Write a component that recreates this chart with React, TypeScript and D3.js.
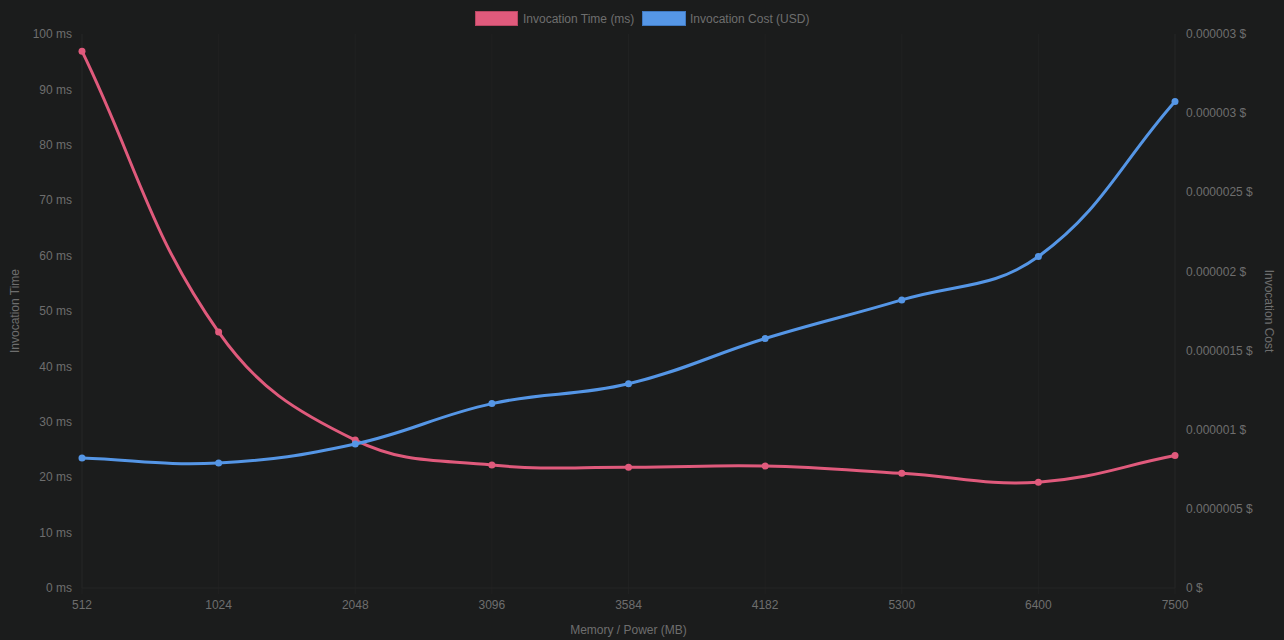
import React from "react";
import * as d3 from "d3";

const categories = ["512", "1024", "2048", "3096", "3584", "4182", "5300", "6400", "7500"];
const timeValues = [96.9, 46.2, 26.7, 22.2, 21.8, 22.0, 20.7, 19.1, 23.9];
const costValues = [8.21e-7, 7.9e-7, 9.1e-7, 1.165e-6, 1.29e-6, 1.576e-6, 1.82e-6, 2.094e-6, 3.073e-6];
const timeTicks = [0, 10, 20, 30, 40, 50, 60, 70, 80, 90, 100];
const costTicks = [0, 5e-7, 1e-6, 1.5e-6, 2e-6, 2.5e-6, 3e-6, 3.5e-6];
const costTickLabels = ["0 $", "0.0000005 $", "0.000001 $", "0.0000015 $", "0.000002 $", "0.0000025 $", "0.000003 $", "0.000003 $"];
const legendLabels = ["Invocation Time (ms)", "Invocation Cost (USD)"];

const W = 1284, H = 640;
const left = 82, right = 1175, top = 34, bottom = 588;
const BG = "#1b1c1c";
const TXT = "#6e6e6e";
const PINK = "#e05a7c";
const BLUE = "#5596e6";
const FONT = "'Liberation Sans', Arial, Helvetica, sans-serif";

function splinePath(pts: [number, number][], tension = 0.4) {
  const p = d3.path();
  const cps = pts.map((cur, i) => {
    const prev = pts[i - 1] || cur;
    const next = pts[i + 1] || cur;
    const d01 = Math.hypot(cur[0] - prev[0], cur[1] - prev[1]);
    const d12 = Math.hypot(next[0] - cur[0], next[1] - cur[1]);
    let s01 = d01 / (d01 + d12);
    let s12 = d12 / (d01 + d12);
    s01 = isNaN(s01) ? 0 : s01;
    s12 = isNaN(s12) ? 0 : s12;
    const fa = tension * s01, fb = tension * s12;
    const clampY = (y: number) => Math.max(top, Math.min(bottom, y));
    return {
      prev: [cur[0] - fa * (next[0] - prev[0]), clampY(cur[1] - fa * (next[1] - prev[1]))],
      next: [cur[0] + fb * (next[0] - prev[0]), clampY(cur[1] + fb * (next[1] - prev[1]))],
    };
  });
  p.moveTo(pts[0][0], pts[0][1]);
  for (let i = 1; i < pts.length; i++) {
    p.bezierCurveTo(cps[i - 1].next[0], cps[i - 1].next[1], cps[i].prev[0], cps[i].prev[1], pts[i][0], pts[i][1]);
  }
  return p.toString();
}

export default function App() {
  const x = d3.scalePoint<string>().domain(categories).range([left, right]);
  const yT = d3.scaleLinear().domain([0, 100]).range([bottom, top]);
  const yC = d3.scaleLinear().domain([0, 3.5e-6]).range([bottom, top]);
  const tPts = categories.map((c, i) => [x(c)!, yT(timeValues[i])] as [number, number]);
  const cPts = categories.map((c, i) => [x(c)!, yC(costValues[i])] as [number, number]);

  return (
    <div style={{ position: "fixed", left: 0, top: 0, width: W, height: H, background: BG }}>
      <svg width={W} height={H} style={{ display: "block", fontFamily: FONT }}>
        <rect x={0} y={0} width={W} height={H} fill={BG} />
        {categories.map((c) => (
          <line key={c} x1={x(c)} x2={x(c)} y1={top} y2={bottom + 6} stroke="#202121" strokeWidth={1} />
        ))}
        <line x1={left} x2={right} y1={bottom} y2={bottom} stroke="#242525" />
        <line x1={left} x2={left} y1={top} y2={bottom} stroke="#242525" />
        <line x1={right} x2={right} y1={top} y2={bottom} stroke="#242525" />
        {timeTicks.map((t) => (
          <text key={t} x={72} y={yT(t)} dy="0.35em" textAnchor="end" fontSize={12} fill={TXT}>{`${t} ms`}</text>
        ))}
        {costTicks.map((t, i) => (
          <text key={i} x={1186} y={yC(t)} dy="0.35em" textAnchor="start" fontSize={12} fill={TXT}>{costTickLabels[i]}</text>
        ))}
        {categories.map((c) => (
          <text key={c} x={x(c)} y={605} dy="0.35em" textAnchor="middle" fontSize={12} fill={TXT}>{c}</text>
        ))}
        <text x={(left + right) / 2} y={630} dy="0.35em" textAnchor="middle" fontSize={12} fill={TXT}>Memory / Power (MB)</text>
        <text transform={`translate(15,${(top + bottom) / 2}) rotate(-90)`} dy="0.35em" textAnchor="middle" fontSize={12} fill={TXT}>Invocation Time</text>
        <text transform={`translate(1269,${(top + bottom) / 2}) rotate(90)`} dy="0.35em" textAnchor="middle" fontSize={12} fill={TXT}>Invocation Cost</text>

        <path d={splinePath(tPts)} fill="none" stroke={PINK} strokeWidth={3} />
        <path d={splinePath(cPts)} fill="none" stroke={BLUE} strokeWidth={3} />
        {tPts.map((p, i) => <circle key={"t" + i} cx={p[0]} cy={p[1]} r={3.5} fill={PINK} />)}
        {cPts.map((p, i) => <circle key={"c" + i} cx={p[0]} cy={p[1]} r={3.5} fill={BLUE} />)}

        <rect x={475.5} y={11.5} width={42} height={14} fill={PINK} stroke="#b84763" strokeWidth={1} />
        <text x={523} y={18.5} dy="0.35em" fontSize={12} fill={TXT}>{legendLabels[0]}</text>
        <rect x={642.5} y={11.5} width={43} height={14} fill={BLUE} stroke="#3f78c0" strokeWidth={1} />
        <text x={690} y={18.5} dy="0.35em" fontSize={12} fill={TXT}>{legendLabels[1]}</text>
      </svg>
    </div>
  );
}
